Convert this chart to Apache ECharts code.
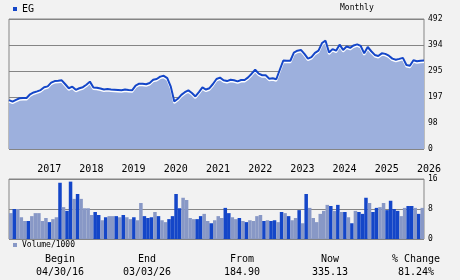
<!DOCTYPE html>
<html><head><meta charset="utf-8">
<script src="https://cdn.jsdelivr.net/npm/echarts@6/dist/echarts.min.js"></script>
<style>html,body{margin:0;padding:0;background:#f2f2f2}#c{width:460px;height:280px}</style>
</head><body><div id="c"></div>
<script>
// ---- data ----
const ticker = 'EG';
const priceStart = '2016-05';   // first point (04/30/16)
const priceEnd = '2026-03';     // last point (03/03/26)
const volStart = '2016-05';
const volEnd = '2026-02';
const priceValues = [
185,179,186,192,193,193,207,214,218,223,
234,237,251,257,258,260,245,230,236,224,
230,234,243,255,233,232,229,225,227,225,
224,223,222,225,223,222,240,247,247,245,
250,262,265,274,277,268,236,180,190,205,
215,222,212,199,215,233,225,230,246,265,
270,260,257,262,260,256,261,261,271,285,
300,285,279,279,266,268,264,300,335,334,
334,365,372,375,360,342,348,364,372,401,
410,365,378,372,395,375,388,383,392,396,
390,362,386,370,356,352,362,360,353,342,
338,341,345,318,315,336,332,334,335];
const volValues = [
6.9,8.0,8.0,5.8,4.8,4.8,6.1,6.9,6.9,4.8,
5.6,4.5,5.3,5.8,15.0,8.5,7.5,15.3,10.7,12.0,
10.7,8.2,8.2,6.4,7.2,6.4,5.0,5.8,6.1,6.1,
6.1,5.8,6.4,5.8,5.3,5.8,5.0,9.6,6.1,5.6,
5.8,7.2,6.1,5.0,4.5,5.3,6.1,12.0,8.2,11.0,
10.4,5.6,5.3,5.3,6.1,6.7,4.8,4.2,5.0,6.1,
5.6,8.3,6.9,5.8,5.3,5.6,4.8,4.5,5.0,4.8,
6.1,6.4,4.8,5.0,4.8,5.0,4.5,7.2,6.9,6.1,
5.0,5.6,7.7,4.2,12.0,8.3,5.6,4.5,6.7,7.5,
9.1,8.8,7.5,9.1,7.2,7.2,5.8,4.2,7.5,7.2,
6.7,11.0,9.6,7.2,8.3,8.5,9.6,7.7,10.2,8.0,
7.5,6.1,8.3,8.8,8.8,8.3,6.7,8.3];
// 1 = dark bar, 0 = light bar
const volDark = [
0,1,0,0,0,1,0,0,0,0,
0,1,0,0,1,0,1,1,0,1,
0,0,0,0,1,1,0,1,0,0,
1,0,1,0,0,1,0,0,1,1,
1,0,1,0,0,1,1,1,1,0,
0,0,0,1,1,0,0,1,0,0,
0,1,1,0,0,1,0,1,0,0,
0,0,1,0,1,1,0,1,0,1,
0,0,1,0,1,0,0,0,0,0,
0,1,0,1,0,1,0,1,0,1,
1,1,0,1,1,0,0,1,1,1,
1,0,0,1,1,0,1,0];
const priceTicks = [0, 98, 197, 295, 394, 492];
const volTicks = [0, 8, 16];
const statLabels = ['Begin', 'End', 'From', 'Now', '% Change'];
const statValues = ['04/30/16', '03/03/26', '184.90', '335.13', '81.24%'];

// ---- helpers ----
function months(a, b) {
  let [y, m] = a.split('-').map(Number);
  const [ey, em] = b.split('-').map(Number);
  const out = [];
  while (y < ey || (y === ey && m <= em)) {
    out.push(y + '-' + String(m).padStart(2, '0'));
    m++; if (m > 12) { m = 1; y++; }
  }
  return out;
}
const priceCats = months(priceStart, priceEnd);
const volCats = months(volStart, volEnd);

const DARK = '#1446c8', LIGHT = '#8898c6', AREA = '#9db0dd', GRIDC = '#858585';
const MONO = '"DejaVu Sans Mono", monospace';

const chart = echarts.init(document.getElementById('c'), null, {renderer: 'canvas'});
const stats = [];
const statX = [60, 147, 242, 330, 416];
statLabels.forEach((t, i) => {
  stats.push({type: 'text', x: statX[i], y: 259.5, style: {text: t, textAlign: 'center', textVerticalAlign: 'middle', font: '10px ' + MONO, fill: '#000'}});
  stats.push({type: 'text', x: statX[i], y: 272.7, style: {text: statValues[i], textAlign: 'center', textVerticalAlign: 'middle', font: '10px ' + MONO, fill: '#000'}});
});

chart.setOption({
  backgroundColor: '#f2f2f2',
  animation: false,
  title: {text: 'Monthly', left: 340, top: 4, padding: 0,
    textStyle: {fontSize: 8, fontWeight: 'normal', fontFamily: MONO, color: '#000'}},
  legend: [
    {data: [ticker], left: 13, top: 4, padding: 0, icon: 'rect', itemWidth: 4, itemHeight: 4,
      textStyle: {fontSize: 10, fontFamily: MONO, color: '#000'}},
    {data: ['Volume/1000'], left: 13, top: 241, padding: 0, icon: 'rect', itemWidth: 4, itemHeight: 4,
      textStyle: {fontSize: 8, fontFamily: MONO, color: '#000'}}
  ],
  grid: [
    {left: 9, right: 36, top: 19, height: 130, show: true, borderColor: GRIDC, borderWidth: 1, backgroundColor: 'transparent'},
    {left: 9, right: 36, top: 179, height: 60, show: true, borderColor: GRIDC, borderWidth: 1, backgroundColor: 'transparent'}
  ],
  xAxis: [
    {type: 'category', gridIndex: 0, data: priceCats, boundaryGap: false,
      axisLine: {show: false}, axisTick: {show: false}, splitLine: {show: false},
      axisLabel: {interval: (i, v) => v.slice(5) === '01', formatter: v => v.slice(0, 4),
        align: 'left', margin: 15, fontSize: 10, fontFamily: MONO, color: '#000'}},
    {type: 'category', gridIndex: 1, data: volCats, boundaryGap: true,
      axisLine: {show: false}, axisTick: {show: false}, axisLabel: {show: false}, splitLine: {show: false}}
  ],
  yAxis: [
    {type: 'value', gridIndex: 0, position: 'right', min: 0, max: 492, interval: 98.4,
      axisLine: {show: false}, axisTick: {show: false},
      splitLine: {show: true, lineStyle: {color: GRIDC, width: 1}},
      axisLabel: {margin: 4, fontSize: 8, fontFamily: MONO, color: '#000',
        formatter: v => String(priceTicks[Math.round(v / 98.4)])}},
    {type: 'value', gridIndex: 1, position: 'right', min: 0, max: 16, interval: 8,
      axisLine: {show: false}, axisTick: {show: false},
      splitLine: {show: true, lineStyle: {color: GRIDC, width: 1}},
      axisLabel: {margin: 4, fontSize: 8, fontFamily: MONO, color: '#000',
        formatter: v => String(volTicks[Math.round(v / 8)])}}
  ],
  series: [
    {name: ticker, type: 'line', xAxisIndex: 0, yAxisIndex: 0, data: priceValues,
      showSymbol: false, symbol: 'none', itemStyle: {color: DARK},
      lineStyle: {color: DARK, width: 2, shadowColor: '#ffffff', shadowBlur: 0, shadowOffsetY: 1.5},
      areaStyle: {color: AREA, opacity: 1}, z: 3},
    {name: 'Volume/1000', type: 'bar', xAxisIndex: 1, yAxisIndex: 1, barCategoryGap: '0%',
      itemStyle: {color: LIGHT},
      data: volValues.map((v, i) => ({value: v, itemStyle: {color: volDark[i] ? DARK : LIGHT}})), z: 3}
  ],
  graphic: stats
});
</script></body></html>
